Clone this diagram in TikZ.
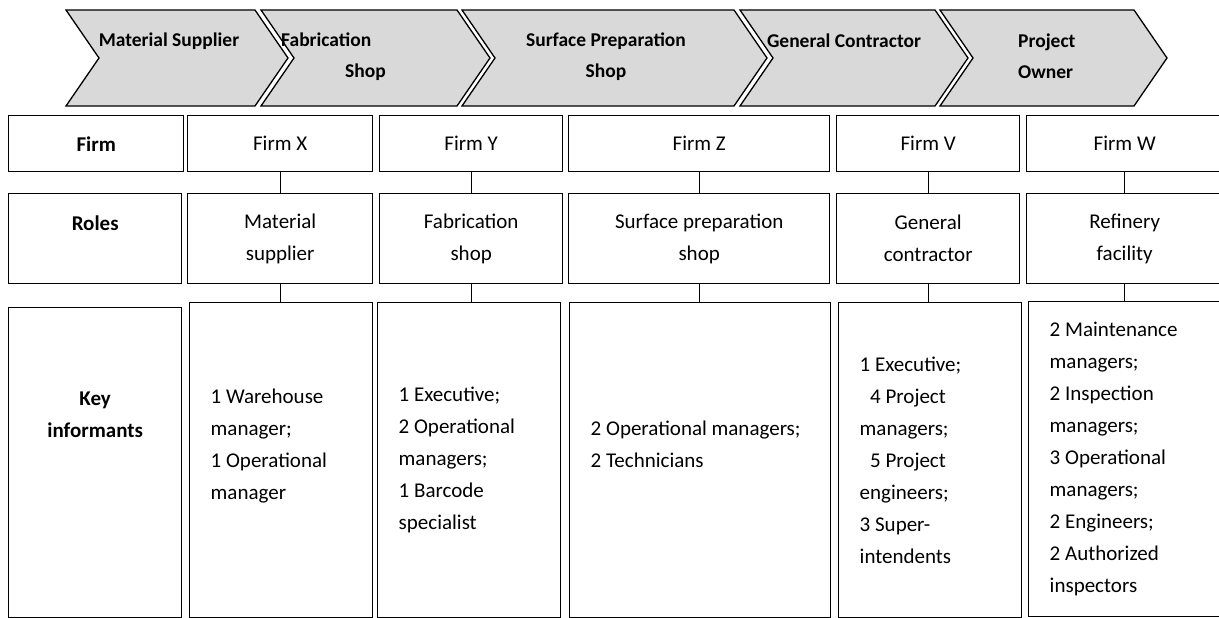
\documentclass[tikz,border=0pt]{standalone}
\usepackage{fontspec}
\setmainfont{Carlito}

\begin{document}
\begin{tikzpicture}
[x=1pt, y=-1pt,
chevron/.style={draw, fill=gray!30, line width=1.3pt, line join=miter},
head/.style={font=\bfseries\fontsize{19.5}{31}\selectfont, inner sep=0pt},
cell/.style={draw, line width=1.4pt, anchor=north west, inner sep=0pt,
align=center, font=\fontsize{21}{32}\selectfont},
rowhead/.style={cell, font=\bfseries\fontsize{21}{32}\selectfont},
info/.style={cell, align=flush left, inner xsep=21pt, minimum height=315pt},
link/.style={draw, line width=1.3pt}]
\useasboundingbox (0,0) rectangle (1219,618);
\clip (0,0) rectangle (1219,618);
% chevron band
\foreach \l/\r in {66/255, 261/457, 462/734, 740/935, 940/1134}
  \draw[chevron] (\l,10) -- (\r,10) -- (\r+33,58) -- (\r,106)
    -- (\l,106) -- (\l+33,58) -- cycle;
\node[head] (hsup) at (169,41) {Material Supplier};
\node[head, align=left, anchor=west] (hfab) at (281,56.5) {Fabrication\\\hspace*{64pt}Shop};
\node[head, align=center] (hsurf) at (606,56.5) {Surface Preparation\\Shop};
\node[head] (hgen) at (844,41) {General Contractor};
\node[head, align=left, anchor=west] (hown) at (1018,56.5) {Project\\Owner};
% row 1
\node[rowhead, minimum width=175pt, minimum height=56pt] (lfirm) at (8,115) {Firm};
\node[cell, minimum width=185pt, minimum height=56pt] (fx) at (187,115) {Firm X};
\node[cell, minimum width=183pt, minimum height=56pt] (fy) at (379,115) {Firm Y};
\node[cell, minimum width=261pt, minimum height=56pt] (fz) at (568,115) {Firm Z};
\node[cell, minimum width=183pt, minimum height=56pt] (fv) at (836,115) {Firm V};
\node[cell, minimum width=196pt, minimum height=56pt] (fw) at (1026,115) {Firm W};
% row 2
\node[rowhead, minimum width=173pt, minimum height=90pt] (lrole) at (8,193) {Roles\\\mbox{}};
\node[cell, minimum width=185pt, minimum height=90pt] (rx) at (187,193) {Material\\supplier};
\node[cell, minimum width=183pt, minimum height=90pt] (ry) at (379,193) {Fabrication\\shop};
\node[cell, minimum width=261pt, minimum height=90pt] (rz) at (568,193) {Surface preparation\\shop};
\node[cell, minimum width=183pt, minimum height=90pt] (rv) at (836,193) {General\\contractor};
\node[cell, minimum width=196pt, minimum height=90pt] (rw) at (1026,193) {Refinery\\facility};
% row 3
\node[rowhead, minimum width=173pt, minimum height=310pt] (lkey) at (8,307)
  {Key\\informants\\\mbox{}\\\mbox{}\\\mbox{}};
\node[info, text width=141pt] (kx) at (189,302)
  {1 Warehouse\\manager;\\1 Operational\\manager\\\mbox{}};
\node[info, text width=141pt] (ky) at (377,302)
  {1 Executive;\\2 Operational\\managers;\\1 Barcode\\specialist};
\node[info, text width=219pt] (kz) at (569,302)
  {2 Operational managers;\\2 Technicians\\\mbox{}};
\node[info, text width=141pt] (kv) at (838,302)
  {1 Executive;\\\hspace*{0.5em}4 Project\\managers;\\\hspace*{0.5em}5 Project\\engineers;\\3 Super-\\intendents};
\node[info, text width=152pt] (kw) at (1028,301)
  {2 Maintenance\\managers;\\2 Inspection\\managers;\\3 Operational\\managers;\\2 Engineers;\\2 Authorized\\inspectors};
% links
\foreach \c in {x,y,z,v,w}{
  \draw[link] (f\c.south) -- (f\c.south |- r\c.north);
  \draw[link] (r\c.south) -- (r\c.south |- k\c.north);
}
\end{tikzpicture}
\end{document}
